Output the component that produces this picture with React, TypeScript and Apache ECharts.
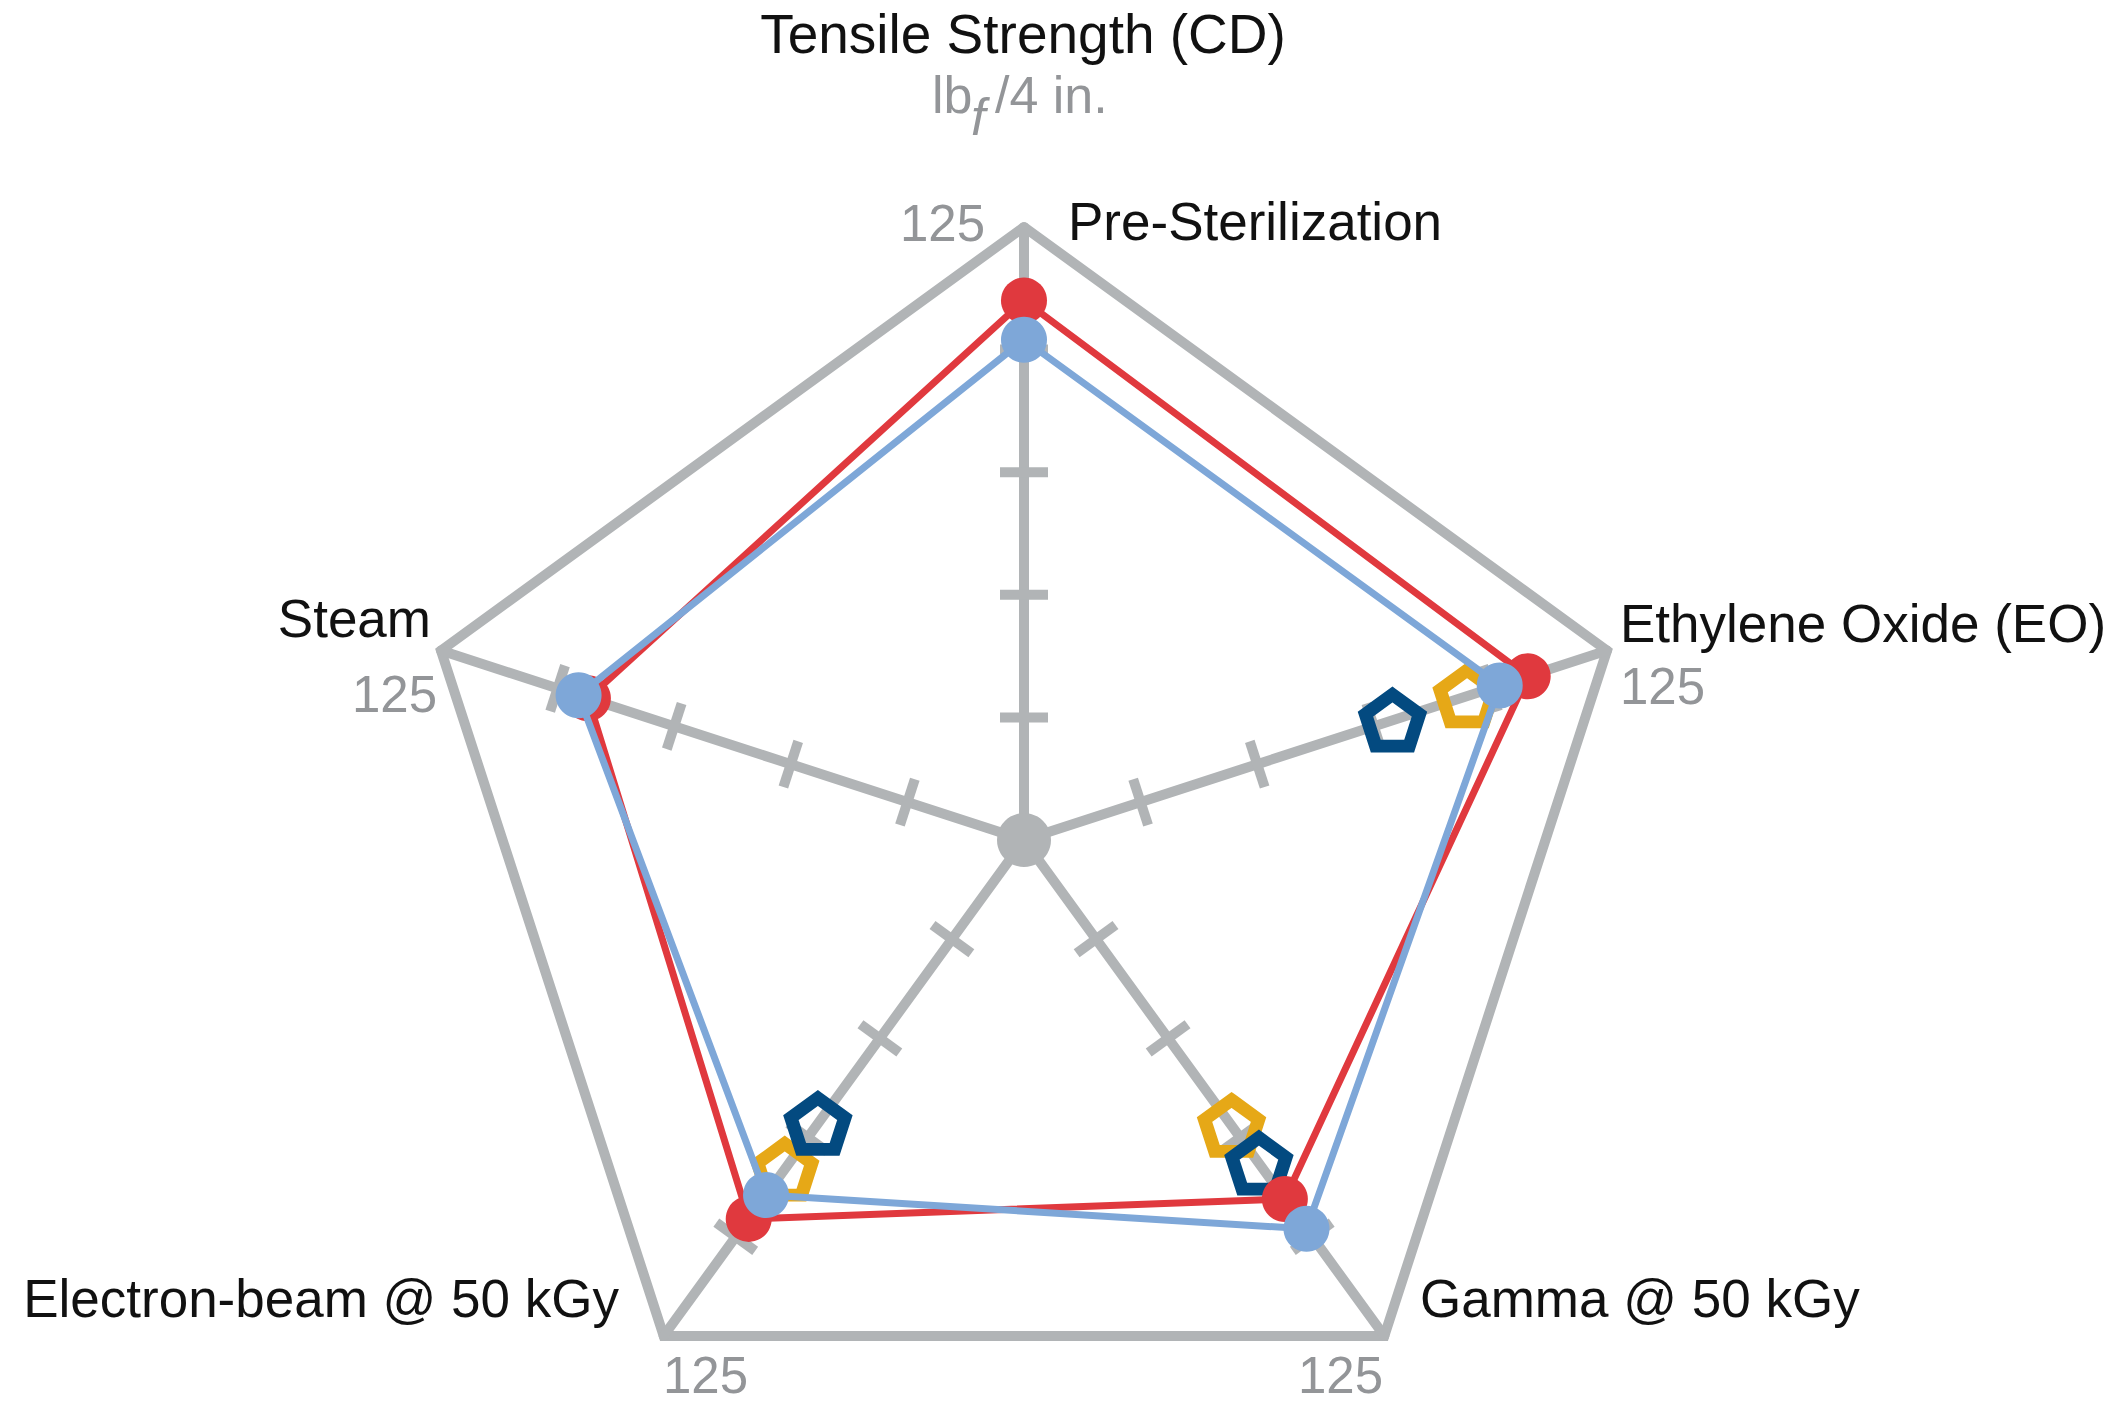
import React, { useEffect, useRef } from 'react';
import * as echarts from 'echarts';

// Indicator order: counterclockwise starting at the top
const axes = ['Pre-Sterilization', 'Steam', 'Electron-beam @ 50 kGy', 'Gamma @ 50 kGy', 'Ethylene Oxide (EO)'];
const axisMax = 125;
const tickValues = [25, 50, 75, 100];
const redValues = [110, 93.5, 95.5, 90.5, 108];
const blueValues = [102, 95.5, 89.5, 98, 102];
const orangeValues: (number | null)[] = [null, null, 83, 72, 95];
const navyValues: (number | null)[] = [null, null, 71.5, 81.5, 79];

const GRAY = '#b1b4b6';
const TEXT_GRAY = '#939598';
const RED = '#e0393e';
const BLUE = '#7ea7d8';
const ORANGE = '#e6a817';
const NAVY = '#034a80';
const FONT = '"Liberation Sans", Arial, sans-serif';

const CX = 1024;
const CY = 840;
const R = 613;

const PENTAGON = 'path://M0,-1 L0.951,-0.309 L0.588,0.809 L-0.588,0.809 L-0.951,-0.309 Z';

function pentagonData(values: (number | null)[]) {
  const out: any[] = [];
  values.forEach((v, i) => {
    if (v != null) out.push([v, axes[i]]);
  });
  return out;
}

function txt(text: string, x: number, y: number, align: string, color: string, size: number, extra: any = {}) {
  return {
    type: 'text',
    x,
    y,
    silent: true,
    style: {
      text,
      fill: color,
      font: `${extra.italic ? 'italic ' : ''}${size}px ${FONT}`,
      textAlign: align,
      textVerticalAlign: 'middle',
    },
  };
}

export default function App() {
  const ref = useRef<HTMLDivElement>(null);
  useEffect(() => {
    document.body.style.margin = '0';
    const chart = echarts.init(ref.current!, null, { renderer: 'svg' });
    const tickData: any[] = [];
    axes.forEach((a, i) => {
      tickValues.forEach((t) => {
        tickData.push({ value: [t, a], symbolRotate: (i * 360) / axes.length });
      });
    });
    const pentStyle = (c: string) => ({
      color: 'rgba(0,0,0,0)',
      borderColor: c,
      borderWidth: 13,
      borderJoin: 'miter',
      opacity: 1,
    });
    chart.setOption({
      animation: false,
      backgroundColor: '#ffffff',
      radar: {
        center: [CX, CY],
        radius: R,
        startAngle: 90,
        splitNumber: 1,
        shape: 'polygon',
        indicator: axes.map((name) => ({ name, min: 0, max: axisMax })),
        axisName: { show: false },
        axisLine: { lineStyle: { color: GRAY, width: 10 } },
        splitLine: { lineStyle: { color: GRAY, width: 10, join: 'miter' } },
        splitArea: { show: false },
        axisTick: { show: false },
        axisLabel: { show: false },
        z: 0,
      },
      polar: { center: [CX, CY], radius: R },
      angleAxis: {
        type: 'category',
        data: axes,
        startAngle: 90,
        clockwise: false,
        boundaryGap: false,
        axisLine: { show: false },
        axisTick: { show: false },
        axisLabel: { show: false },
        splitLine: { show: false },
      },
      radiusAxis: {
        type: 'value',
        min: 0,
        max: axisMax,
        axisLine: { show: false },
        axisTick: { show: false },
        axisLabel: { show: false },
        splitLine: { show: false },
      },
      series: [
        {
          type: 'scatter',
          coordinateSystem: 'polar',
          z: 1,
          silent: true,
          symbol: 'rect',
          symbolSize: [48, 10],
          itemStyle: { color: GRAY, opacity: 1 },
          data: tickData,
        },
        {
          type: 'scatter',
          coordinateSystem: 'polar',
          z: 1,
          silent: true,
          symbol: 'circle',
          symbolSize: 54,
          itemStyle: { color: GRAY, opacity: 1 },
          data: [[0, axes[0]]],
        },
        {
          name: 'Orange',
          type: 'scatter',
          coordinateSystem: 'polar',
          z: 2,
          symbol: PENTAGON,
          symbolSize: [54, 51.5],
          itemStyle: pentStyle(ORANGE),
          data: pentagonData(orangeValues),
        },
        {
          name: 'Navy',
          type: 'scatter',
          coordinateSystem: 'polar',
          z: 2,
          symbol: PENTAGON,
          symbolSize: [54, 51.5],
          itemStyle: pentStyle(NAVY),
          data: pentagonData(navyValues),
        },
        {
          name: 'Blue',
          type: 'radar',
          z: 4,
          symbol: 'circle',
          symbolSize: 46,
          lineStyle: { color: BLUE, width: 7 },
          itemStyle: { color: BLUE },
          data: [{ value: blueValues }],
        },
        {
          name: 'Red',
          type: 'radar',
          z: 3,
          symbol: 'circle',
          symbolSize: 46,
          lineStyle: { color: RED, width: 7 },
          itemStyle: { color: RED },
          data: [{ value: redValues }],
        },
      ],
      graphic: [
        txt('Tensile Strength (CD)', 1023, 34, 'center', '#111', 55),
        txt('lb', 932, 95, 'left', TEXT_GRAY, 52),
        txt('f', 971, 117, 'left', TEXT_GRAY, 52, { italic: true }),
        txt('/4 in.', 995, 95, 'left', TEXT_GRAY, 52),
        txt('Pre-Sterilization', 1068, 221, 'left', '#111', 53),
        txt('125', 985, 223, 'right', TEXT_GRAY, 51),
        txt('Ethylene Oxide (EO)', 1620, 623, 'left', '#111', 53),
        txt('125', 1620, 686, 'left', TEXT_GRAY, 51),
        txt('Steam', 431, 618, 'right', '#111', 53),
        txt('125', 437, 694, 'right', TEXT_GRAY, 51),
        txt('Gamma @ 50 kGy', 1420, 1298, 'left', '#111', 53),
        txt('125', 1383, 1375, 'right', TEXT_GRAY, 51),
        txt('Electron-beam @ 50 kGy', 619, 1298, 'right', '#111', 53),
        txt('125', 663, 1375, 'left', TEXT_GRAY, 51),
      ],
    });
    return () => chart.dispose();
  }, []);
  return <div ref={ref} style={{ width: 2123, height: 1402 }} />;
}
